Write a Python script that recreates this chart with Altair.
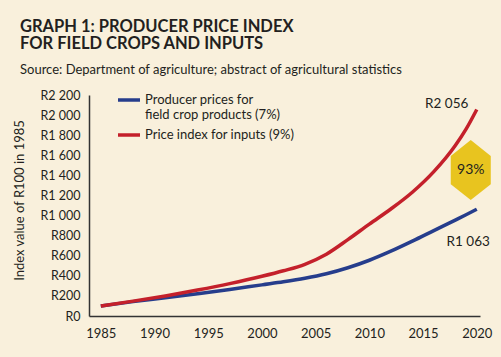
import altair as alt
import pandas as pd

years = [1985, 1988, 1991, 1994, 1997, 2000, 2002, 2004, 2006, 2008, 2010, 2012, 2014, 2016, 2018, 2019, 2020]
producer = [100, 143, 182, 222, 264, 310, 340, 375, 420, 480, 555, 645, 745, 850, 955, 1008, 1063]
inputs = [100, 148, 200, 258, 322, 395, 450, 515, 615, 760, 915, 1065, 1232, 1437, 1697, 1860, 2056]

S_PROD = "Producer prices for field crop products (7%)"
S_INP = "Price index for inputs (9%)"
series_names = [S_PROD, S_INP]
series_colors = ["#263D8C", "#C4202B"]

ann_text = ["R2 056", "R1 063"]
ann_x = [2017.2, 2019.2]
ann_y = [2110, 737]

badge_text = ["93%"]
badge_x = [2019.44]
badge_y = [1453]

y_ticks = list(range(0, 2201, 200))
x_ticks = [1985, 1990, 1995, 2000, 2005, 2010, 2015, 2020]

FONT = "Lato"
INK = "#231F20"
BG = "#F9F0DC"

df = pd.DataFrame({
    "year": years * 2,
    "value": producer + inputs,
    "series": [S_PROD] * len(years) + [S_INP] * len(years),
})
ann = pd.DataFrame({"label": ann_text, "year": ann_x, "value": ann_y})
badge = pd.DataFrame({"label": badge_text, "year": badge_x, "value": badge_y})

xscale = alt.Scale(domain=[1983.9, 2020.3], nice=False, zero=False)
yscale = alt.Scale(domain=[0, 2200], nice=False)

x_axis = alt.Axis(values=x_ticks, format="d", title=None, ticks=False, grid=False,
                  domainColor="#333333", domainWidth=1.5, labelPadding=11,
                  labelFontSize=13, labelFont=FONT, labelColor=INK)
y_axis = alt.Axis(values=y_ticks,
                  labelExpr="'R' + replace(format(datum.value, ','), ',', ' ')",
                  labelOverlap=False,
                  title="Index value of R100 in 1985", ticks=False, grid=False,
                  domainColor="#333333", domainWidth=1.5, labelPadding=9,
                  labelFontSize=12.5, labelFont=FONT, labelColor=INK,
                  titleFont=FONT, titleFontSize=13, titleFontWeight="normal",
                  titleColor=INK, titleX=-70, titleY=105, titleAngle=-90,
                  titleAlign="center", titleBaseline="middle")

X = alt.X("year:Q", scale=xscale, axis=x_axis)
Y = alt.Y("value:Q", scale=yscale, axis=y_axis)

label_expr = ("datum.label == '" + S_PROD + "' ? ['Producer prices for', 'field crop products (7%)'] : datum.label")

lines = alt.Chart(df).mark_line(strokeWidth=3.5, interpolate="monotone").encode(
    x=X, y=Y,
    color=alt.Color("series:N", sort=series_names,
                    scale=alt.Scale(domain=series_names, range=series_colors),
                    legend=alt.Legend(orient="none", legendX=27, legendY=-8, title=None,
                                      symbolType="stroke", symbolSize=484, symbolStrokeWidth=3.5,
                                      labelFont=FONT, labelFontSize=13, labelColor=INK,
                                      labelOffset=3, labelLimit=300,
                                      labelBaseline="middle", labelExpr=label_expr,
                                      padding=0, rowPadding=0)),
)

ann_layer = alt.Chart(ann).mark_text(font=FONT, fontSize=13.5, color=INK).encode(
    x=X, y=Y, text="label:N")

hexagon = "M0,-1L0.667,-0.47L0.667,0.47L0,1L-0.667,0.47L-0.667,-0.47Z"
badge_shape = alt.Chart(badge).mark_point(shape=hexagon, size=3600, filled=True,
                                           color="#E8C41F", opacity=1, strokeWidth=0).encode(
    x=X, y=Y)
badge_label = alt.Chart(badge).mark_text(font=FONT, fontSize=14, color=INK).encode(
    x=X, y=Y, text="label:N")

chart = alt.layer(lines, ann_layer, badge_shape, badge_label).properties(
    width=391, height=221,
    autosize=alt.AutoSizeParams(type="none"),
    padding={"left": 89, "top": 95, "right": 21, "bottom": 41},
    background=BG,
    title=alt.TitleParams(
        text=["GRAPH 1: PRODUCER PRICE INDEX", "FOR FIELD CROPS AND INPUTS"],
        subtitle="Source: Department of agriculture; abstract of agricultural statistics",
        anchor="start", frame="group", dx=-69, offset=10,
        font=FONT, fontSize=16.5, fontWeight="bold", color=INK, lineHeight=16.5,
        subtitleFont=FONT, subtitleFontSize=13, subtitleColor=INK, subtitlePadding=12),
).configure_view(stroke=None).configure_axisY(labelOverlap=False)

chart.save("out.html", embed_options={"renderer": "svg", "actions": False})
